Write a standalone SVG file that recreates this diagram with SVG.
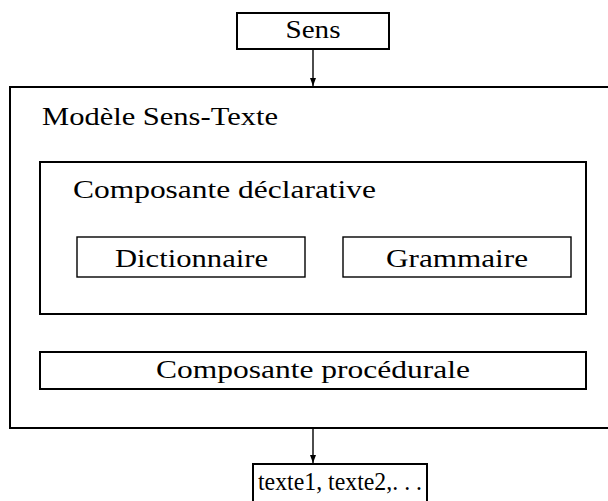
<svg xmlns="http://www.w3.org/2000/svg" width="608" height="501" viewBox="0 0 608 501">
<style>
text{font-family:"Liberation Serif","DejaVu Serif",serif;font-size:25px;fill:#000}
.thick{fill:none;stroke:#000;stroke-width:2}
.thin{fill:none;stroke:#000;stroke-width:1.4}
.c{stroke:#000;stroke-width:1.4;fill:none}
</style>
<defs>
<marker id="ah" viewBox="0 0 8 8" refX="8" refY="4" markerWidth="8" markerHeight="8" markerUnits="userSpaceOnUse" orient="auto">
<path d="M0,1 L8,4 L0,7 Z" fill="#000"/>
</marker>
</defs>
<rect width="608" height="501" fill="#fff"/>
<g id="sens">
<rect class="thick" x="237" y="13" width="152" height="36"/>
<text x="313" y="38" text-anchor="middle" textLength="55" lengthAdjust="spacingAndGlyphs">Sens</text>
</g>
<g id="mst">
<rect class="thick" x="10" y="87" width="610" height="341"/>
<text x="42" y="125" textLength="236" lengthAdjust="spacingAndGlyphs">Modèle Sens-Texte</text>
</g>
<g id="decl">
<rect class="thick" x="40" y="162" width="546" height="152"/>
<text x="73" y="198" textLength="303" lengthAdjust="spacingAndGlyphs">Composante déclarative</text>
</g>
<g id="dict">
<rect class="thin" x="77" y="237" width="228" height="40"/>
<text x="191.5" y="267" text-anchor="middle" textLength="153" lengthAdjust="spacingAndGlyphs">Dictionnaire</text>
</g>
<g id="gram">
<rect class="thin" x="343" y="237" width="228" height="40"/>
<text x="457" y="267" text-anchor="middle" textLength="142" lengthAdjust="spacingAndGlyphs">Grammaire</text>
</g>
<g id="proc">
<rect class="thick" x="40" y="352" width="546" height="37"/>
<text x="313" y="378" text-anchor="middle" textLength="314" lengthAdjust="spacingAndGlyphs">Composante procédurale</text>
</g>
<g id="textes">
<rect class="thick" x="253" y="464" width="174" height="40"/>
<text x="340" y="490" text-anchor="middle" textLength="164" lengthAdjust="spacingAndGlyphs">texte1, texte2,. . .</text>
</g>
<g id="connectors">
<line class="c" x1="313" y1="50" x2="313" y2="86" marker-end="url(#ah)"/>
<line class="c" x1="313" y1="429" x2="313" y2="463" marker-end="url(#ah)"/>
</g>
</svg>
